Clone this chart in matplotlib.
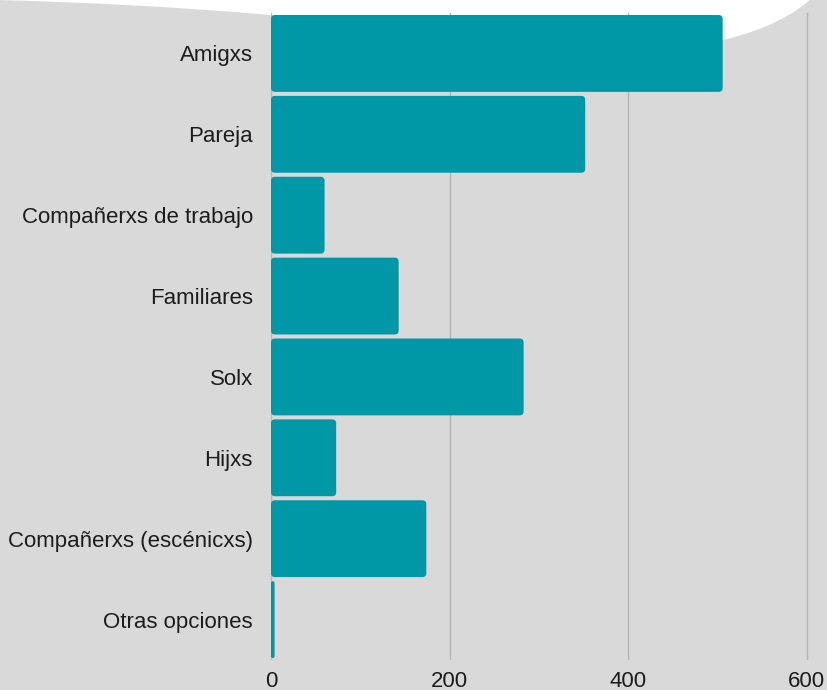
import matplotlib
matplotlib.use("Agg")
import matplotlib.pyplot as plt
from matplotlib.path import Path
from matplotlib.patches import PathPatch, FancyBboxPatch

categories = ["Amigxs", "Pareja", "Compañerxs de trabajo", "Familiares",
              "Solx", "Hijxs", "Compañerxs (escénicxs)", "Otras opciones"]
values = [506, 352, 60, 143, 283, 73, 174, 4]
xticks = [0, 200, 400, 600]

W, H = 828, 690
fig = plt.figure(figsize=(W / 100, H / 100), dpi=100)
fig.patch.set_facecolor("#d9d9d9")

# decorative white blob at the top (pixel coordinates, y from top)
C = Path.CURVE4
pts = [((-5, -5), Path.MOVETO), ((-5, 0), Path.LINETO),
       ((80, 2), C), ((180, 7), C), ((270, 15), C),
       ((420, 45), C), ((600, 60), C), ((723, 40), C),
       ((765, 30), C), ((795, 15), C), ((815, -5), C),
       ((-5, -5), Path.CLOSEPOLY)]
verts = [(x / W, 1 - y / H) for (x, y), _ in pts]
codes = [c for _, c in pts]
fig.patches.append(PathPatch(Path(verts, codes), transform=fig.transFigure,
                             facecolor="white", edgecolor="none", zorder=0))

ax_l, ax_t, ax_b = 271, 13, 660
ax = fig.add_axes([ax_l / W, 1 - ax_b / H, (W - ax_l) / W, (ax_b - ax_t) / H])
ax.set_facecolor("none")
ax.set_zorder(1)

xmax = 624
ypos = list(range(len(categories)))
bars = ax.barh(ypos, values, height=0.95, color="#0097a7", zorder=3)
ax.set_ylim(len(categories) - 0.5, -0.5)
ax.set_xlim(0, xmax)

# round the bar corners (~4 px radius)
px_per_x = (W - ax_l) / xmax
px_per_y = (ax_b - ax_t) / len(categories)
aspect = px_per_x / px_per_y
for b in bars:
    b.set_visible(False)
    x0, y0 = b.get_x(), b.get_y()
    w, h = b.get_width(), b.get_height()
    r = min(4 / px_per_x, w / 2)
    ax.add_patch(FancyBboxPatch((x0, y0), w, h,
                                boxstyle=f"round,pad=0,rounding_size={r}",
                                mutation_aspect=aspect,
                                facecolor="#0097a7", edgecolor="none", zorder=3))

ax.set_xticks(xticks)
ax.set_yticks(ypos)
ax.set_yticklabels(categories)
ax.xaxis.grid(True, color="#b5b5b5", linewidth=1)
ax.set_axisbelow(True)
for s in ax.spines.values():
    s.set_visible(False)
ax.tick_params(axis="both", length=0, labelsize=16, labelcolor="#1c1c1c")
ax.tick_params(axis="y", pad=13)
ax.tick_params(axis="x", pad=8)
for lbl in ax.get_xticklabels() + ax.get_yticklabels():
    lbl.set_fontfamily("Liberation Sans")

fig.savefig("out.png", dpi=100, facecolor=fig.get_facecolor())
